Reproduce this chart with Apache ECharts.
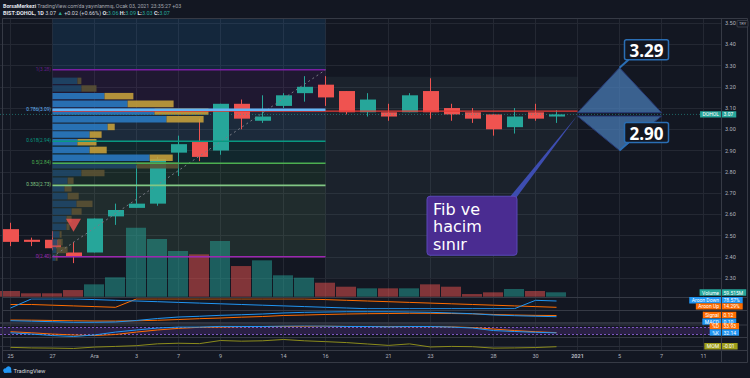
<!DOCTYPE html>
<html>
<head>
<meta charset="utf-8">
<title>BIST:DOHOL 1D</title>
<script src="https://cdn.jsdelivr.net/npm/echarts@6/dist/echarts.min.js"></script>
<style>
  html, body { margin: 0; padding: 0; background: #131722; }
  #chart { width: 750px; height: 378px; }
</style>
</head>
<body>
<div id="chart"></div>
<script>
// ---- values (BIST:DOHOL daily) ----
const days = ['25 Kas','26 Kas','27 Kas','30 Kas','1 Ara','2 Ara','3 Ara','4 Ara','7 Ara','8 Ara','9 Ara','10 Ara','11 Ara',
  '14 Ara','15 Ara','16 Ara','17 Ara','18 Ara','21 Ara','22 Ara','23 Ara','24 Ara','25 Ara','28 Ara','29 Ara','30 Ara','31 Ara'];
const opens  = [2.53, 2.48, 2.48, 2.42, 2.42, 2.59, 2.63, 2.65, 2.89, 2.94, 2.90, 3.12, 3.04, 3.11, 3.17, 3.21, 3.18, 3.08, 3.08, 3.08, 3.18, 3.10, 3.08, 3.07, 3.01, 3.08, 3.06];
const closes = [2.47, 2.47, 2.44, 2.40, 2.58, 2.62, 2.65, 2.86, 2.93, 2.87, 3.12, 3.05, 3.06, 3.16, 3.20, 3.15, 3.08, 3.14, 3.06, 3.16, 3.08, 3.07, 3.05, 3.00, 3.06, 3.05, 3.07];
const lows   = [2.45, 2.45, 2.43, 2.37, 2.42, 2.55, 2.63, 2.64, 2.78, 2.85, 2.88, 3.00, 3.03, 3.10, 3.13, 3.11, 3.07, 3.06, 3.04, 3.08, 3.05, 3.04, 3.03, 2.97, 2.98, 3.04, 3.03];
const highs  = [2.56, 2.49, 2.52, 2.47, 2.58, 2.65, 2.83, 2.87, 2.97, 3.05, 3.12, 3.14, 3.16, 3.17, 3.25, 3.25, 3.18, 3.17, 3.12, 3.17, 3.24, 3.12, 3.10, 3.07, 3.10, 3.12, 3.09];
const volumes = [77, 46, 46, 90, 167, 262, 932, 779, 617, 572, 752, 414, 491, 289, 257, 189, 135, 113, 113, 113, 167, 135, 36, 59, 104, 77, 59.515]; // millions

const aroonUp   = [42.86, 42.86, 35.71, 28.57, 21.43, 14.29, 100, 100, 100, 100, 100, 100, 100, 100, 100, 92.86, 85.71, 78.57, 71.43, 64.29, 57.14, 50, 42.86, 35.71, 28.57, 21.43, 14.29];
const aroonDown = [7.14, 100, 100, 100, 92.86, 85.71, 78.57, 71.43, 64.29, 57.14, 50, 42.86, 35.71, 28.57, 21.43, 14.29, 7.14, 0, 0, 0, 0, 0, 0, 0, 0, 85.71, 78.57];
const macdLine  = [0.033, 0.025, 0.017, 0.007, 0.007, 0.012, 0.037, 0.07, 0.095, 0.107, 0.123, 0.133, 0.145, 0.162, 0.173, 0.178, 0.183, 0.183, 0.182, 0.178, 0.173, 0.162, 0.15, 0.128, 0.117, 0.108, 0.10];
const signalLine = [0.045, 0.042, 0.037, 0.032, 0.028, 0.028, 0.032, 0.04, 0.053, 0.067, 0.078, 0.092, 0.103, 0.12, 0.128, 0.137, 0.145, 0.15, 0.153, 0.157, 0.157, 0.153, 0.148, 0.137, 0.128, 0.122, 0.12];
const stochK = [33, 22, 9, 1, 14, 39, 57, 74, 82, 82, 88, 87, 87, 91, 93, 91, 87, 87, 84, 87, 87, 82, 74, 52, 44, 37, 32.14];
const stochD = [42, 33, 22, 14, 9, 18, 39, 57, 71, 80, 82, 86, 87, 88, 89, 91, 88, 87, 86, 86, 86, 84, 78, 65, 52, 42, 33.93];
const momentum = [-0.08, -0.14, -0.16, -0.2, -0.05, 0.02, 0.1, 0.3, 0.36, 0.32, 0.65, 0.58, 0.62, 0.76, 0.62, 0.53, 0.43, 0.28, 0.13, 0.29, -0.04, 0.02, -0.01, -0.16, -0.14, -0.10, -0.01];

// x axis (bar index -> label), future bars included
const xLabelIdx = [0, 2, 4, 6, 8, 10, 13, 15, 18, 20, 23, 25, 27, 29, 31, 33];
const xLabels   = ['25', '27', 'Ara', '3', '7', '9', '14', '16', '21', '23', '28', '30', '2021', '5', '7', '11'];

// fixed range volume profile (27 Kas - 16 Ara), rows top -> bottom
const vpLevels = [3.246, 3.210, 3.174, 3.138, 3.101, 3.065, 3.029, 2.993, 2.957, 2.921, 2.884, 2.848, 2.812,
  2.776, 2.740, 2.704, 2.667, 2.631, 2.595, 2.559, 2.523, 2.487, 2.450, 2.414, 2.378];
const vpUp   = [112, 130, 234, 338, 459, 513, 248, 167, 112, 167, 437, 378, 130, 68, 54, 68, 108, 86, 63, 63, 32, 23, 18, 14];
const vpDown = [18, 68, 130, 207, 243, 167, 32, 54, 86, 77, 104, 189, 104, 27, 32, 50, 72, 45, 23, 14, 9, 23, 50, 9];
const valueArea = [2, 10];

// fibonacci retracement 2.40 -> 3.28
const fibPrices = [3.28, 3.092, 2.944, 2.84, 2.736, 2.40];
const fibLabels = ['1(3.28)', '0.786(3.09)', '0.618(2.94)', '0.5(2.84)', '0.382(2.73)', '0(2.40)'];

// targets drawn on the right
const targetPrices = [3.29, 2.90];
const targetBase = [3.078, 3.062];

const UP = '#26a69a', DOWN = '#ef5350';
const BG = '#131722', GRID = '#242833', TXT = '#b2b5be', SEP = '#363a45';
const FONT = 'Roboto, "Liberation Sans", sans-serif';
const X_MIN = -0.5, X_MAX = 33.833, PLOT_W = 721;
const FIB_COLORS = ['#7b1fa2', '#64b5f6', '#089981', '#4caf50', '#81c784', '#9c27b0'];

const chart = echarts.init(document.getElementById('chart'), null, { renderer: 'svg' });

const ctx = document.createElement('canvas').getContext('2d');
function textW(t, size) {
  ctx.font = size + 'px Roboto';
  return ctx.measureText(t).width;
}

const gridDefs = [
  { left: 0, top: 23.06, width: PLOT_W, height: 276.18 }, // price
  { left: 52.5, top: 23.06, width: 273, height: 276.18 }, // volume profile
  { left: 0, top: 18, width: PLOT_W, height: 278.7 },     // volume
  { left: 0, top: 298.9, width: PLOT_W, height: 9.8 },    // aroon
  { left: 0, top: 310.7, width: PLOT_W, height: 14.4 },   // macd
  { left: 0, top: 325, width: PLOT_W, height: 11.6 },     // stoch
  { left: 0, top: 337.25, width: PLOT_W, height: 13.1 },  // mom
  { left: 0, top: 18, width: PLOT_W, height: 332 }        // full height, grid lines + dates
];

const xAxes = gridDefs.map((g, i) => i === 1
  ? { gridIndex: 1, type: 'value', min: 0, max: 273 * 4.5, show: false }
  : { gridIndex: i, type: 'value', min: X_MIN, max: X_MAX, show: false });

const hidden = (i, min, max) => ({ gridIndex: i, type: 'value', min, max, show: false });
const yAxes = [
  {
    gridIndex: 0, type: 'value', position: 'right', min: 2.2, max: 3.5, interval: 0.1,
    axisLine: { show: false }, axisTick: { show: false },
    axisLabel: { color: TXT, fontSize: 5.5, fontFamily: FONT, margin: 4, showMinLabel: false,
      formatter: v => v.toFixed(2) },
    splitLine: { showMinLine: false, lineStyle: { color: GRID, width: 1 } }
  },
  hidden(1, 2.2, 3.5),
  hidden(2, 0, 278.7 * 13.5),
  hidden(3, 0, 100),
  hidden(4, -0.04, 0.2),
  hidden(5, 0, 100),
  hidden(6, -0.4, 1.0),
  hidden(7, 0, 1)
];

const idx = days.map((d, i) => i);
const pair = arr => arr.map((v, i) => [i, v]);

const series = [];

// vertical grid lines and date labels
series.push({
  type: 'custom', xAxisIndex: 7, yAxisIndex: 7, z: 1, silent: true, clip: false,
  data: xLabelIdx.map((x, k) => [x, 0, k]),
  renderItem: (params, api) => {
    const k = api.value(2);
    const top = api.coord([api.value(0), 1]);
    const bot = api.coord([api.value(0), 0]);
    return { type: 'group', children: [
      { type: 'line', shape: { x1: top[0], y1: top[1], x2: bot[0], y2: bot[1] }, style: { stroke: GRID, lineWidth: 1 } },
      { type: 'text', x: bot[0], y: bot[1] + 6.3, style: { text: xLabels[k], fill: TXT, fontSize: 5.5, fontFamily: FONT,
        fontWeight: xLabels[k] === '2021' ? 'bold' : 'normal', align: 'center', verticalAlign: 'middle' } }
    ] };
  }
});

// shaded boxes: profile range above fib 1, and the grey area right of the fib
const shadeBoxes = [
  { x: [2, 15], p: [3.524, 3.28], color: 'rgba(33,150,243,0.13)' },
  { x: [15, 27], p: [3.247, 2.30], color: 'rgba(110,150,160,0.09)' }
];
series.push({
  type: 'custom', xAxisIndex: 0, yAxisIndex: 0, z: 2, silent: true, clip: false,
  data: shadeBoxes.map((b, k) => [b.x[0], b.p[0], k]),
  renderItem: (params, api) => {
    const b = shadeBoxes[api.value(2)];
    const a = api.coord([b.x[0], b.p[0]]), c = api.coord([b.x[1], b.p[1]]);
    return { type: 'rect', shape: { x: a[0], y: a[1], width: c[0] - a[0], height: c[1] - a[1] }, style: { fill: b.color } };
  }
});

// fib zones
series.push({
  type: 'custom', xAxisIndex: 0, yAxisIndex: 0, z: 2, silent: true, clip: false,
  data: fibPrices.slice(0, -1).map((p, k) => [2, p, k]),
  renderItem: (params, api) => {
    const k = api.value(2);
    const a = api.coord([2, fibPrices[k]]), c = api.coord([15, fibPrices[k + 1]]);
    return { type: 'rect', shape: { x: a[0], y: a[1], width: c[0] - a[0], height: c[1] - a[1] },
      style: { fill: FIB_COLORS[k], opacity: 0.12 } };
  }
});

// volume
series.push({
  type: 'custom', xAxisIndex: 2, yAxisIndex: 2, z: 3, silent: true, clip: false,
  data: idx.map(i => [i, volumes[i]]),
  renderItem: (params, api) => {
    const i = api.value(0);
    const a = api.coord([i - 0.48, api.value(1)]), c = api.coord([i + 0.48, 0]);
    const up = closes[i] >= opens[i];
    return { type: 'rect', shape: { x: Math.round(a[0]), y: a[1], width: Math.round(c[0] - a[0]), height: c[1] - a[1] },
      style: { fill: up ? 'rgba(38,166,154,0.5)' : 'rgba(239,83,80,0.5)' } };
  }
});

// candles
series.push({
  type: 'custom', xAxisIndex: 0, yAxisIndex: 0, z: 4, clip: false,
  data: idx.map(i => [i, opens[i], closes[i], lows[i], highs[i]]),
  renderItem: (params, api) => {
    const i = api.value(0), o = api.value(1), c = api.value(2);
    const pO = api.coord([i, o]), pC = api.coord([i, c]);
    const pL = api.coord([i, api.value(3)]), pH = api.coord([i, api.value(4)]);
    const w = 16;
    const color = c >= o ? UP : DOWN;
    const top = Math.min(pO[1], pC[1]);
    const h = Math.max(Math.abs(pO[1] - pC[1]), 1.5);
    return { type: 'group', children: [
      { type: 'line', shape: { x1: pH[0], y1: pH[1], x2: pL[0], y2: pL[1] }, style: { stroke: color, lineWidth: 1 } },
      { type: 'rect', shape: { x: Math.round(pO[0] - w / 2), y: top, width: w, height: h }, style: { fill: color } }
    ] };
  }
});

// volume profile
series.push({
  type: 'custom', xAxisIndex: 1, yAxisIndex: 1, z: 5, silent: true, clip: false,
  data: vpUp.map((u, k) => [u, vpLevels[k + 1], vpLevels[k], vpDown[k], k]),
  renderItem: (params, api) => {
    const k = api.value(4), up = api.value(0), dn = api.value(3);
    const top = api.coord([0, api.value(2)]), bot = api.coord([0, api.value(1)]);
    const xUp = api.coord([up, 0])[0], xAll = api.coord([up + dn, 0])[0];
    const y = top[1] + 0.6, h = bot[1] - top[1] - 1.2;
    const inVA = k >= valueArea[0] && k <= valueArea[1];
    return { type: 'group', children: [
      { type: 'rect', shape: { x: top[0], y, width: xUp - top[0], height: h },
        style: { fill: inVA ? '#2a7bc4' : '#1f4769', opacity: 0.88 } },
      { type: 'rect', shape: { x: xUp, y, width: xAll - xUp, height: h },
        style: { fill: inVA ? '#c8a23b' : '#5b5234', opacity: 0.88 } }
    ] };
  }
});

// fib lines, labels, trend line, red level, last price line
series.push({
  type: 'custom', xAxisIndex: 0, yAxisIndex: 0, z: 6, silent: true, clip: false,
  data: fibPrices.map((p, k) => [2, p, k]),
  renderItem: (params, api) => {
    const k = api.value(2);
    const a = api.coord([2, fibPrices[k]]), c = api.coord([15, fibPrices[k]]);
    const kids = [
      { type: 'line', shape: { x1: a[0], y1: a[1], x2: c[0], y2: c[1] },
        style: { stroke: FIB_COLORS[k], lineWidth: k === 1 ? 2.5 : 1.6 } },
      { type: 'text', x: a[0] - 1.5, y: a[1] - 0.5, style: { text: fibLabels[k], fill: FIB_COLORS[k], fontSize: 4.8,
        fontFamily: FONT, align: 'right', verticalAlign: 'middle', opacity: k === 0 ? 0.8 : 1 } }
    ];
    if (k === 0) {
      const s = api.coord([2, fibPrices[5]]), e = api.coord([15, fibPrices[0]]);
      kids.push({ type: 'line', shape: { x1: s[0], y1: s[1], x2: e[0], y2: e[1] },
        style: { stroke: '#787b86', lineWidth: 1, lineDash: [2, 3] } });
      const r1 = api.coord([2, 3.088]), r2 = api.coord([27, 3.088]);
      kids.unshift({ type: 'line', shape: { x1: r1[0], y1: r1[1] + 0.5, x2: r2[0], y2: r2[1] + 0.5 },
        style: { stroke: '#e53935', lineWidth: 1.3 } });
      const l1 = api.coord([X_MIN, closes[closes.length - 1]]), l2 = api.coord([X_MAX, closes[closes.length - 1]]);
      kids.unshift({ type: 'line', shape: { x1: l1[0], y1: l1[1], x2: l2[0], y2: l2[1] },
        style: { stroke: 'rgba(38,166,154,0.55)', lineWidth: 1, lineDash: [1, 2] } });
    }
    return { type: 'group', children: kids };
  }
});

// sell marker
series.push({
  type: 'scatter', xAxisIndex: 0, yAxisIndex: 0, z: 6, silent: true,
  symbol: 'triangle', symbolRotate: 180, symbolSize: [15, 13],
  itemStyle: { color: DOWN },
  data: [[3, 2.548]]
});

// price targets
series.push({
  type: 'custom', xAxisIndex: 0, yAxisIndex: 0, z: 7, silent: true, clip: false,
  data: targetPrices.map((p, k) => [29, p, 27, 31, targetBase[k]]),
  renderItem: (params, api) => {
    const a = api.coord([api.value(0), api.value(1)]);
    const l = api.coord([api.value(2), api.value(4)]);
    const r = api.coord([api.value(3), api.value(4)]);
    const bx = a[0] + 5, by = a[1] - 28, bw = 44, bh = 20;
    return { type: 'group', children: [
      { type: 'polygon', shape: { points: [l, a, r] }, style: { fill: 'rgba(74,126,186,0.72)', stroke: '#283a78', lineWidth: 1 } },
      { type: 'line', shape: { x1: a[0], y1: a[1], x2: a[0] + 9, y2: by + bh }, style: { stroke: '#2a6eb4', lineWidth: 2 } },
      { type: 'rect', shape: { x: bx, y: by, width: bw, height: bh, r: 2 }, style: { fill: BG, stroke: '#2a6eb4', lineWidth: 1.5 } },
      { type: 'text', x: bx + bw / 2, y: by + bh / 2 + 0.5, style: { text: api.value(1).toFixed(2), fill: '#ffffff',
        fontSize: 17, fontWeight: 'bold', fontFamily: '"Open Sans", sans-serif', align: 'center', verticalAlign: 'middle' } }
    ] };
  }
});

// callout
series.push({
  type: 'custom', xAxisIndex: 0, yAxisIndex: 0, z: 8, silent: true, clip: false,
  data: [[27, 3.066]],
  renderItem: (params, api) => {
    const tip = api.coord([api.value(0), api.value(1)]);
    const bx = tip[0] - 150.5, by = tip[1] + 81, bw = 90, bh = 59;
    return { type: 'group', children: [
      { type: 'polygon', shape: { points: [tip, [bx + 83, by + 0.5], [bx + 88.5, by + 2.5]] }, style: { fill: '#3d4db0' } },
      { type: 'rect', shape: { x: bx, y: by, width: bw, height: bh, r: 3 }, style: { fill: '#4a2c91', stroke: '#5a48b8', lineWidth: 1 } },
      { type: 'text', x: bx + 6, y: by + 4, style: { text: 'Fib ve\nhacim\nsınır', fill: '#ffffff', fontSize: 16,
        fontFamily: '"DejaVu Sans", sans-serif', lineHeight: 17.5, align: 'left', verticalAlign: 'top' } }
    ] };
  }
});

// indicators
const line = (name, data, color, g, extra) => Object.assign({
  name, type: 'line', xAxisIndex: g, yAxisIndex: g, data: pair(data), symbol: 'none', silent: true, z: 5,
  lineStyle: { color, width: 1 }, itemStyle: { color }
}, extra || {});

series.push(line('Aroon Up', aroonUp, '#ff6d00', 3));
series.push(line('Aroon Down', aroonDown, '#2196f3', 3));
series.push(line('Signal', signalLine, '#ff6d00', 4, {
  markLine: { silent: true, symbol: 'none', label: { show: false }, lineStyle: { color: '#3a3e4a', type: 'solid', width: 1.5 }, data: [{ yAxis: 0 }] }
}));
series.push(line('MACD', macdLine, '#2196f3', 4));
series.push(line('%D', stochD, '#ff6d00', 5, {
  markArea: { silent: true, itemStyle: { color: 'rgba(126,70,194,0.22)' }, data: [[{ yAxis: 20 }, { yAxis: 80 }]] },
  markLine: { silent: true, symbol: 'none', label: { show: false }, lineStyle: { color: '#7e57c2', type: [2, 2], width: 1 },
    data: [{ yAxis: 20 }, { yAxis: 80 }] }
}));
series.push(line('%K', stochK, '#2196f3', 5));
series.push(line('MOM', momentum, '#8c8c1c', 6, {
  markLine: { silent: true, symbol: 'none', label: { show: false }, lineStyle: { color: '#2a2e39', type: 'solid', width: 1 }, data: [{ yAxis: 0 }] }
}));

// ---- frame, header and scale tags ----
function scaleTag(name, value, color, yc) {
  const fs = 5;
  const wn = textW(name, fs) + 4, wv = textW(value, fs) + 6;
  return [
    { type: 'rect', z: 100, shape: { x: 720.5 - wn, y: yc - 3.2, width: wn + wv, height: 6.4 }, style: { fill: color } },
    { type: 'text', z: 101, x: 719, y: yc, style: { text: name, fill: '#ffffff', fontSize: fs, fontFamily: FONT, align: 'right', verticalAlign: 'middle' } },
    { type: 'text', z: 101, x: 723.5, y: yc, style: { text: value, fill: '#ffffff', fontSize: fs, fontFamily: FONT, align: 'left', verticalAlign: 'middle' } }
  ];
}

const last = days.length - 1;
const tags = [
  ['Volume', volumes[last].toFixed(3) + 'M', '#26a69a', 292.5],
  ['Aroon Down', aroonDown[last].toFixed(2) + '%', '#2196f3', 300.3],
  ['Aroon Up', aroonUp[last].toFixed(2) + '%', '#ff6d00', 306.4],
  ['Signal', signalLine[last].toFixed(2), '#ff6d00', 315],
  ['MACD', macdLine[last].toFixed(2), '#2196f3', 321.6],
  ['%D', stochD[last].toFixed(2), '#ff6d00', 326.2],
  ['%K', stochK[last].toFixed(2), '#2196f3', 332.5],
  ['MOM', momentum[last].toFixed(2), '#9e9e1a', 346.2]
];

const separators = [297.5, 310.5, 325, 337.5, 350.5];

function buildGraphic() {
  const els = [];
  els.push({ type: 'rect', z: 90, shape: { x: 2.5, y: 18.5, width: 745, height: 344 }, style: { fill: 'none', stroke: SEP, lineWidth: 1 } });
  separators.forEach(y => els.push({ type: 'line', z: 90, shape: { x1: 2.5, y1: y, x2: 747.5, y2: y }, style: { stroke: SEP, lineWidth: 1.2 } }));
  els.push({ type: 'line', z: 102, shape: { x1: 721.5, y1: 18.5, x2: 721.5, y2: 362.5 }, style: { stroke: SEP, lineWidth: 1 } });

  els.push({ type: 'text', z: 100, x: 3, y: 5.5, style: {
    text: '{b|BorsaMerkezi} TradingView.com\'da yayınlanmış, Ocak 03, 2021 23:35:27 +03',
    fill: '#a3a6af', fontSize: 5.3, fontFamily: FONT, verticalAlign: 'middle',
    rich: { b: { fill: '#e0e3eb', fontWeight: 'bold', fontSize: 5.3, fontFamily: FONT } } } });
  els.push({ type: 'text', z: 100, x: 3, y: 12.5, style: {
    text: '{w|BIST:DOHOL, 1D} {v|3.07} {g|▲} {v|+0.02 (+0.66%)} {w|O:}{g|3.06} {w|H:}{g|3.09} {w|L:}{g|3.03} {w|C:}{g|3.07}',
    fill: '#d1d4dc', fontSize: 5.5, fontFamily: FONT, verticalAlign: 'middle',
    rich: {
      w: { fill: '#e0e3eb', fontWeight: 'bold', fontSize: 5.5, fontFamily: FONT },
      v: { fill: '#d1d4dc', fontSize: 5.5, fontFamily: FONT },
      g: { fill: '#26a69a', fontSize: 5.5, fontFamily: FONT }
    } } });

  // currency badge on the price scale, right of the top tick label
  els.push({ type: 'rect', z: 100, shape: { x: 737, y: 20.5, width: 11, height: 6.5, r: 1 }, style: { fill: BG, stroke: '#434651', lineWidth: 0.8 } });
  els.push({ type: 'text', z: 101, x: 742.5, y: 23.8, style: { text: 'TRY', fill: TXT, fontSize: 4, fontFamily: FONT, align: 'center', verticalAlign: 'middle' } });

  // last price tag
  const yLast = chart.convertToPixel({ yAxisIndex: 0 }, closes[last]);
  scaleTag('DOHOL', closes[last].toFixed(2), '#26a69a', yLast).forEach(e => els.push(e));
  tags.forEach(t => scaleTag(t[0], t[1], t[2], t[3]).forEach(e => els.push(e)));

  // TradingView logo
  els.push({ type: 'circle', z: 100, shape: { cx: 5.5, cy: 370.5, r: 2.3 }, style: { fill: '#2196f3' } });
  els.push({ type: 'circle', z: 100, shape: { cx: 8.5, cy: 369.2, r: 2.8 }, style: { fill: '#2196f3' } });
  els.push({ type: 'rect', z: 100, shape: { x: 4, y: 370.5, width: 7.5, height: 2.3 }, style: { fill: '#2196f3' } });
  els.push({ type: 'text', z: 100, x: 13.5, y: 370.5, style: { text: 'TradingView', fill: '#d1d4dc', fontSize: 5.8, fontFamily: FONT, verticalAlign: 'middle' } });
  return els;
}

chart.setOption({
  backgroundColor: BG,
  animation: false,
  textStyle: { fontFamily: FONT },
  grid: gridDefs.map(g => Object.assign({ containLabel: false }, g)),
  xAxis: xAxes,
  yAxis: yAxes,
  series
});
chart.setOption({ graphic: { elements: buildGraphic() } });
</script>
</body>
</html>
